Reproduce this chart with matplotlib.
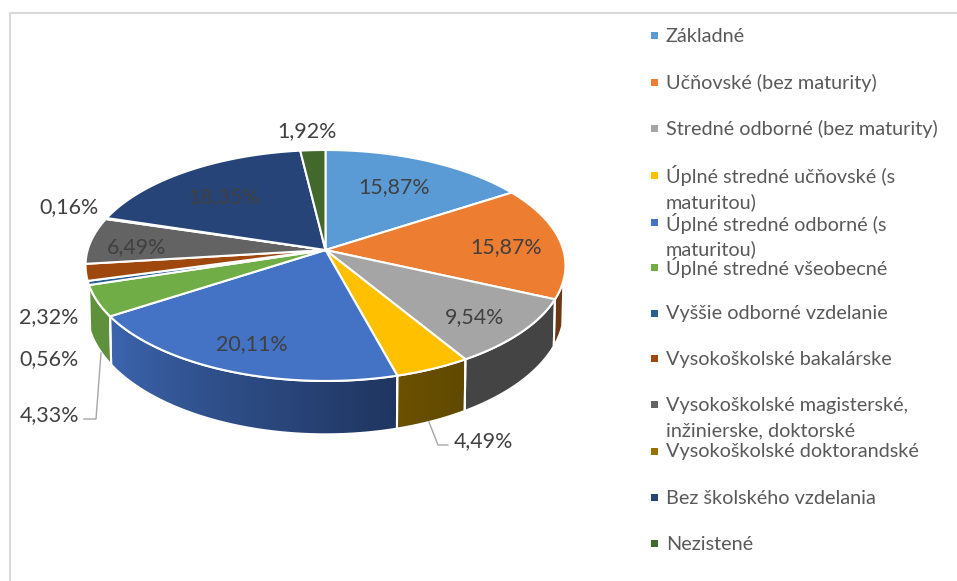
import numpy as np
import matplotlib
matplotlib.use('Agg')
import matplotlib.pyplot as plt
from matplotlib.patches import Polygon, Rectangle
from matplotlib.colors import to_rgb

plt.rcParams['font.family'] = ['Lato', 'DejaVu Sans']

categories = ['Základné', 'Učňovské (bez maturity)', 'Stredné odborné (bez maturity)',
              'Úplné stredné učňovské (s\nmaturitou)', 'Úplné stredné odborné (s\nmaturitou)',
              'Úplné stredné všeobecné', 'Vyššie odborné vzdelanie', 'Vysokoškolské bakalárske',
              'Vysokoškolské magisterské,\ninžinierske, doktorské', 'Vysokoškolské doktorandské',
              'Bez školského vzdelania', 'Nezistené']
values = [15.87, 15.87, 9.54, 4.49, 20.11, 4.33, 0.56, 2.32, 6.49, 0.16, 18.35, 1.92]
colors = ['#5b9bd5', '#ed7d31', '#a5a5a5', '#ffc000', '#4472c4', '#70ad47',
          '#255e91', '#9e480e', '#636363', '#997300', '#264478', '#43682b']

# where the labels sit, in image pixels
label_pos = [(394, 187), (506, 247), (475, 317), (483, 441), (252, 344), (49, 415),
             (49, 359), (49, 317), (137, 247), (69, 207), (224, 197), (307, 131)]
legend_y = [35, 82, 128, 175, 222, 267, 313, 358, 404, 451, 497, 543]

# colours of the rim, only the front slices show one
rim = {1: ('#6b3410', '#5a2c0d'), 2: ('#444444', '#444444'), 3: ('#6b5100', '#5f4800'),
       4: ('#3c65ae', '#1f3560'), 5: ('#5f903c', '#5f903c')}

CX, CY = 325.5, 250.
SX, SY = 237.8, 113.4
K = 0.134


def top(theta):
    # angle clockwise from 12 o'clock, with perspective so the apex is off centre
    X, Y = np.sin(theta), np.cos(theta)
    w = 1 + K * Y
    return CX + SX * X / w, CY - SY * Y / w


def bottom(theta):
    x, y = top(theta)
    v = (CY - y) / SY
    return CX + (x - CX) * 0.995, y + 43 - 9 * v


def arc(a, b, f):
    t = np.linspace(a, b, max(int(abs(b - a) * 60), 2))
    return np.column_stack(f(t))


fig = plt.figure(figsize=(9.57, 5.81), dpi=100)
ax = fig.add_axes([0, 0, 1, 1])
ax.set_xlim(0, 957)
ax.set_ylim(581, 0)
ax.axis('off')

# chart frame
ax.plot([10, 10, 957], [581, 13, 13], color='#d9d9d9', lw=1.5)

edges = np.cumsum([0] + values) / np.sum(values) * 2 * np.pi

# rim first, overlapping strips so no seams show in the shading
for i, (c0, c1) in rim.items():
    a, b = edges[i], edges[i + 1]
    if i == 1:
        a = np.radians(105)
    t = np.linspace(a, b, 60)
    c0, c1 = np.array(to_rgb(c0)), np.array(to_rgb(c1))
    for j in range(len(t) - 1):
        end = t[min(j + 3, len(t) - 1)]
        x0, y0 = top(t[j])
        x1, y1 = top(end)
        x2, y2 = bottom(end)
        x3, y3 = bottom(t[j])
        # blue runs the other way round: dark on the right
        mix = j / (len(t) - 2)
        col = c1 * (1 - mix) + c0 * mix if i != 1 else c0
        ax.add_patch(Polygon([(x0, y0), (x1, y1), (x2, y2), (x3, y3)], closed=True,
                             fc=col, ec='none', lw=0, zorder=2))
    outline = np.vstack([arc(a, b, top), arc(b, a, bottom)])
    ax.add_patch(Polygon(outline, closed=True, fc='none', ec='white', lw=1.5, zorder=3))

# top face
for i, c in enumerate(colors):
    pts = np.vstack([[CX, CY], arc(edges[i], edges[i + 1], top)])
    ax.add_patch(Polygon(pts, closed=True, fc=c, ec='white', lw=1.5, zorder=4))

# percent labels
for v, (x, y) in zip(values, label_pos):
    ax.text(x, y, f'{v:.2f}%'.replace('.', ','), ha='center', va='center',
            fontsize=15.4, color='#404040', zorder=6)

# leader lines
ax.plot([84, 96, 101], [419, 419, 353], color='#a6a6a6', lw=1, zorder=5)
ax.plot([448, 438, 429], [445, 445, 422], color='#a6a6a6', lw=1, zorder=5)

# legend
for name, c, y in zip(categories, colors, legend_y):
    ax.add_patch(Rectangle((651, y - 3.5), 7, 7, fc=c, ec='none', zorder=5))
    for n, line in enumerate(name.split('\n')):
        ax.text(666, y + 1 + n * 26, line, ha='left', va='center', fontsize=14.35,
                color='#595959', zorder=5)

plt.savefig('out.png', dpi=100)
